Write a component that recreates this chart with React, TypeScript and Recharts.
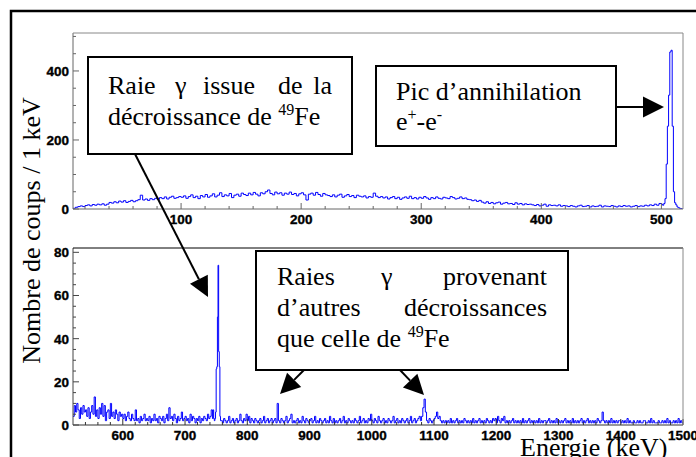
import React from 'react';
import { LineChart, Line, XAxis, YAxis } from 'recharts';

// Upper spectrum (counts / 1 keV), 2 keV bins starting at 10 keV
const TOP_START = 10;
const topContinuum = [
  2, 5, 7, 9, 7,
  10, 12, 9, 13, 11, 14, 12, 15, 11, 14,
  19, 17, 21, 18, 23, 20, 24, 19, 22, 25, 21, 24, 27,
  40, 26, 29, 25, 30, 27, 31, 28,
  33, 30, 35, 29, 34, 37, 31, 33, 36,
  34, 38, 31, 36, 41, 33, 37, 30, 39, 35, 42, 34,
  38, 44, 35, 40, 47, 36, 41, 38, 45, 33, 40, 43, 37, 46,
  42, 39, 46, 41, 48, 43, 38, 47, 44, 50, 55, 45, 41, 49, 44, 47, 40, 46, 43, 49, 42,
  45, 38, 44, 47, 41, 26, 43, 46, 40, 48, 42, 37, 45, 41,
  39, 36, 41, 35, 40, 43, 34, 38, 42, 36, 39, 33, 40, 37,
  35, 38, 32, 36, 34, 46, 37, 33, 36,
  32, 35, 29, 33, 36, 30, 34, 28, 32, 35, 31, 37, 30, 33, 29, 34, 31, 36,
  32, 28, 33, 30, 35, 31, 29, 34, 32, 30, 36, 33, 29, 31, 35, 30, 32, 28,
  27, 24, 26, 22, 25,
  20, 17, 21, 16, 19, 15, 18, 20, 14, 17, 19, 15, 16, 13, 18, 14, 16, 12, 15, 13, 14,
  12, 10, 13, 9, 11, 14, 8, 12, 10, 11, 9, 12, 8, 10,
  9, 7, 10, 8, 6, 9, 11, 7, 8, 10, 6, 9, 7, 8, 11, 6, 9, 8,
  7, 10, 8, 6, 9, 7, 10, 8, 9, 6, 8, 10, 7, 9, 8, 11, 9,
  12, 10, 14, 11, 16,
];
// annihilation peak, 1 keV bins from 500 keV
const TOP_PEAK_START = 500;
const topPeak = [14, 11, 16, 30, 130, 240, 330, 455, 460, 240, 50, 18, 12, 6, 4, 2, 1, 0];
const TOP_END = 518;

// Lower spectrum, 2 keV bins from 520 keV
const BOTTOM_START = 520;
const bottomLow = [
  4, 9, 6, 10, 7, 3, 8, 5, 9, 6,
  7, 4, 8, 3, 6, 9, 5, 13, 4, 7,
  3, 8, 5, 10, 4, 9, 2, 6, 7, 3,
  10, 4, 6, 3, 7, 5, 2, 6, 4, 5,
  3, 5, 2, 4, 6, 3, 2, 5, 3, 2,
  7, 2, 3, 1, 4, 2, 3, 5, 2, 3,
  2, 4, 1, 3, 2, 5, 2, 3, 1, 4,
  3, 2, 4, 1, 3, 5, 2, 8, 3, 4,
  2, 5, 3, 1, 4, 2, 3, 6, 2, 3,
  4, 2, 3, 1, 5, 2, 4, 3, 1, 3,
  2, 4, 1, 3, 2, 4, 3, 2, 5, 3, 4, 7,
];
// 49Fe gamma line, 1 keV bins from 744 keV
const BOTTOM_PEAK_START = 744;
const bottomPeak = [3, 7, 3, 2, 3, 6, 26, 27, 50, 74, 34, 27, 4, 2];
// 2 keV bins from 758 keV
const BOTTOM_HIGH_START = 758;
const bottomHigh = [
  2, 1, 3, 2, 1, 2, 4, 1, 2, 3,
  1, 2, 3, 1, 2, 5, 2, 1, 3, 2,
  5, 2, 4, 1, 3, 2, 1, 3, 2, 1,
  2, 3, 1, 2, 4, 1, 2, 3, 1, 2,
  3, 1, 2, 3, 1, 10, 2, 1, 3, 2,
  1, 2, 4, 1, 2, 3, 5, 1, 2, 1,
  2, 3, 1, 2, 1, 4, 2, 1, 3, 2,
  1, 2, 3, 1, 2, 4, 1, 2, 1, 3,
  2, 1, 2, 3, 1, 2, 1, 4, 2, 1,
  3, 1, 2, 1, 2, 3, 1, 2, 4, 1,
  2, 1, 3, 2, 1, 2, 1, 3, 2, 1,
  2, 4, 1, 2, 3, 1, 2, 1, 3, 2,
  5, 2, 1, 3, 2, 1, 4, 2, 1, 2,
  3, 1, 2, 1, 3, 2, 1, 2, 4, 1,
  2, 3, 1, 2, 1, 3, 2, 1, 2, 3,
  1, 2, 4, 1, 2, 3, 1, 2, 3, 4,
  2, 4, 8, 12, 6, 2, 1, 3, 2, 1,
  2, 3, 4, 6, 3, 4, 2, 1, 2, 1,
  2, 1, 2, 1, 3, 1, 2, 1, 2, 3,
  1, 2, 1, 2, 1, 3, 2, 1, 2, 1,
  2, 1, 3, 1, 2, 1, 2, 3, 1, 2,
  1, 2, 1, 3, 2, 1, 2, 1, 3, 2,
  3, 1, 4, 2, 1, 3, 2, 4, 1, 2,
  1, 2, 1, 2, 3, 1, 2, 1, 2, 1,
  2, 1, 3, 1, 2, 1, 2, 3, 1, 2,
  1, 2, 1, 2, 1, 3, 1, 2, 1, 2,
  2, 1, 2, 3, 1, 2, 1, 2, 1, 3,
  1, 2, 1, 2, 1, 2, 3, 1, 2, 1,
  2, 1, 3, 1, 2, 1, 2, 1, 2, 3,
  1, 2, 1, 2, 3, 1, 2, 1, 2, 1,
  2, 1, 3, 2, 1, 2, 6, 2, 1, 2,
  1, 2, 1, 3, 1, 2, 1, 2, 1, 2,
  2, 1, 2, 1, 2, 1, 3, 1, 2, 1,
  1, 2, 1, 1, 2, 1, 2, 1, 1, 2,
  2, 1, 1, 2, 1, 3, 1, 2, 1, 1,
  1, 2, 1, 1, 2, 1, 2, 1, 3, 1,
  2, 1, 1, 2, 1, 2, 1, 3, 1, 2,
  1,
];
const BOTTOM_END = 1500;

// axis ticks
const topXTicks = [20, 40, 60, 80, 100, 120, 140, 160, 180, 200, 220, 240, 260, 280, 300, 320, 340, 360, 380, 400, 420, 440, 460, 480, 500];
const topYTicks = [0, 50, 100, 150, 200, 250, 300, 350, 400, 450, 500];
const bottomXTicks = [540, 560, 580, 600, 620, 640, 660, 680, 700, 720, 740, 760, 780, 800, 820, 840, 860, 880, 900, 920, 940, 960, 980, 1000, 1020, 1040, 1060, 1080, 1100, 1120, 1140, 1160, 1180, 1200, 1220, 1240, 1260, 1280, 1300, 1320, 1340, 1360, 1380, 1400, 1420, 1440, 1460, 1480, 1500];
const bottomYTicks = [0, 5, 10, 15, 20, 25, 30, 35, 40, 45, 50, 55, 60, 65, 70, 75, 80];

const bins = (start: number, step: number, counts: number[]) => counts.map((c, i) => ({ e: start + i * step, c }));

const topData = [
  ...bins(TOP_START, 2, topContinuum),
  ...bins(TOP_PEAK_START, 1, topPeak),
  { e: TOP_END, c: 0 },
];
const bottomData = [
  ...bins(BOTTOM_START, 2, bottomLow),
  ...bins(BOTTOM_PEAK_START, 1, bottomPeak),
  ...bins(BOTTOM_HIGH_START, 2, bottomHigh),
  { e: BOTTOM_END, c: bottomHigh[bottomHigh.length - 1] },
];

const SANS = '"Liberation Sans", Arial, sans-serif';
const SERIF = '"Liberation Serif", "Times New Roman", serif';

const labelStyle = {
  fontFamily: SANS,
  fontWeight: 700,
  fontSize: 13.5,
  fill: '#000',
  stroke: '#000',
  strokeWidth: 0.35,
};

// ROOT-like inward ticks, labels only on the major ones
const xTick = (major: number, color: string) => (props: any) => {
  const { x, y, payload } = props;
  const isMajor = payload.value % major === 0;
  return (
    <g>
      <line x1={x} x2={x} y1={y} y2={y - (isMajor ? 6 : 3)} stroke={color} />
      {isMajor && (
        <text x={x} y={y + 15} textAnchor="middle" {...labelStyle}>
          {payload.value}
        </text>
      )}
    </g>
  );
};

const yTick = (major: number, color: string) => (props: any) => {
  const { x, y, payload } = props;
  const isMajor = payload.value % major === 0;
  return (
    <g>
      <line x1={x} x2={x + (isMajor ? 6 : 3)} y1={y} y2={y} stroke={color} />
      {isMajor && (
        <text x={x - 4} y={y + 5} textAnchor="end" {...labelStyle}>
          {payload.value}
        </text>
      )}
    </g>
  );
};

const arrow = (x1: number, y1: number, x2: number, y2: number, len = 20, half = 10) => {
  const d = Math.hypot(x2 - x1, y2 - y1);
  const ux = (x2 - x1) / d;
  const uy = (y2 - y1) / d;
  const bx = x2 - ux * len;
  const by = y2 - uy * len;
  return (
    <g>
      <line x1={x1} y1={y1} x2={bx} y2={by} stroke="#000" strokeWidth={2} />
      <polygon
        points={`${x2},${y2} ${bx - uy * half},${by + ux * half} ${bx + uy * half},${by - ux * half}`}
        fill="#000"
      />
    </g>
  );
};

const txt = { fontFamily: SERIF, fontSize: 26, fill: '#000' };

export default function App() {
  return (
    <div style={{ position: 'absolute', left: 0, top: 0, width: 696, height: 457, background: '#fff', overflow: 'hidden' }}>
      <div style={{ position: 'absolute', left: 0, top: 0 }}>
        <LineChart width={696} height={240} data={topData} margin={{ top: 33, right: 13, bottom: 0, left: 0 }}>
          <XAxis
            dataKey="e"
            type="number"
            domain={[10, 518]}
            ticks={topXTicks}
            interval={0}
            tickSize={0}
            tickMargin={0}
            height={31}
            tickLine={false}
            axisLine={{ stroke: '#666' }}
            tick={xTick(100, '#666')}
            allowDataOverflow
          />
          <YAxis
            type="number"
            domain={[0, 510]}
            ticks={topYTicks}
            interval={0}
            tickSize={0}
            tickMargin={0}
            width={73}
            tickLine={false}
            axisLine={{ stroke: '#666' }}
            tick={yTick(200, '#666')}
            allowDataOverflow
          />
          <Line type="stepAfter" dataKey="c" stroke="#0000ff" strokeWidth={1} dot={false} isAnimationActive={false} />
        </LineChart>
      </div>
      <div style={{ position: 'absolute', left: 0, top: 230 }}>
        <LineChart width={696} height={227} data={bottomData} margin={{ top: 18, right: 13, bottom: 0, left: 0 }}>
          <XAxis
            dataKey="e"
            type="number"
            domain={[520, 1500]}
            ticks={bottomXTicks}
            interval={0}
            tickSize={0}
            tickMargin={0}
            height={32}
            tickLine={false}
            axisLine={{ stroke: '#333' }}
            tick={xTick(100, '#333')}
            allowDataOverflow
          />
          <YAxis
            type="number"
            domain={[0, 82]}
            ticks={bottomYTicks}
            interval={0}
            tickSize={0}
            tickMargin={0}
            width={73}
            tickLine={false}
            axisLine={{ stroke: '#444' }}
            tick={yTick(20, '#444')}
            allowDataOverflow
          />
          <Line type="stepAfter" dataKey="c" stroke="#0000ff" strokeWidth={1} dot={false} isAnimationActive={false} />
        </LineChart>
      </div>

      <svg width={696} height={457} style={{ position: 'absolute', left: 0, top: 0 }}>
        {/* outer figure frame */}
        <rect x={11} y={11} width={700} height={460} fill="none" stroke="#000" strokeWidth={2.5} />
        {/* remaining pad frame edges */}
        <line x1={73} y1={33} x2={683} y2={33} stroke="#888" />
        <line x1={683} y1={33} x2={683} y2={209} stroke="#888" />
        <line x1={73} y1={248} x2={683} y2={248} stroke="#000" />
        <line x1={683} y1={248} x2={683} y2={425} stroke="#888" />

        {/* axis titles */}
        <text {...txt} transform="translate(40,230.5) rotate(-90)" textAnchor="middle">
          Nombre de coups / 1 keV
        </text>
        <text {...txt} x={520} y={456}>Energie (keV)</text>

        {/* arrows */}
        {arrow(135, 154, 208, 297, 20, 10)}
        {arrow(616, 107, 664, 107, 21, 10.5)}
        {arrow(304, 370, 280, 394, 20, 10)}
        {arrow(400, 370, 424, 395, 20, 10)}

        {/* box: 49Fe line */}
        <rect x={88} y={57} width={264} height={97} fill="#fff" stroke="#000" strokeWidth={2} />
        <text {...txt} x={108} y={94}>Raie</text>
        <text {...txt} x={175} y={94}>γ</text>
        <text {...txt} x={203} y={94}>issue</text>
        <text {...txt} x={278} y={94}>de</text>
        <text {...txt} x={332} y={94} textAnchor="end">la</text>
        <text {...txt} x={108} y={125}>
          décroissance de <tspan fontSize={16} dy={-10}>49</tspan>
          <tspan dy={10}>Fe</tspan>
        </text>

        {/* box: annihilation */}
        <rect x={376} y={66} width={240} height={80} fill="#fff" stroke="#000" strokeWidth={2} />
        <text {...txt} x={396} y={100}>Pic d’annihilation</text>
        <text {...txt} x={396} y={130}>
          e<tspan fontSize={16} dy={-10}>+</tspan>
          <tspan dy={10}>-e</tspan>
          <tspan fontSize={16} dy={-10}>-</tspan>
        </text>

        {/* box: other lines */}
        <rect x={256} y={251} width={312} height={119} fill="#fff" stroke="#000" strokeWidth={2} />
        <text {...txt} x={277} y={285}>Raies</text>
        <text {...txt} x={381} y={285}>γ</text>
        <text {...txt} x={547} y={285} textAnchor="end">provenant</text>
        <text {...txt} x={277} y={316}>d’autres</text>
        <text {...txt} x={547} y={316} textAnchor="end">décroissances</text>
        <text {...txt} x={277} y={347}>
          que celle de <tspan fontSize={16} dy={-10}>49</tspan>
          <tspan dy={10}>Fe</tspan>
        </text>
      </svg>
    </div>
  );
}
